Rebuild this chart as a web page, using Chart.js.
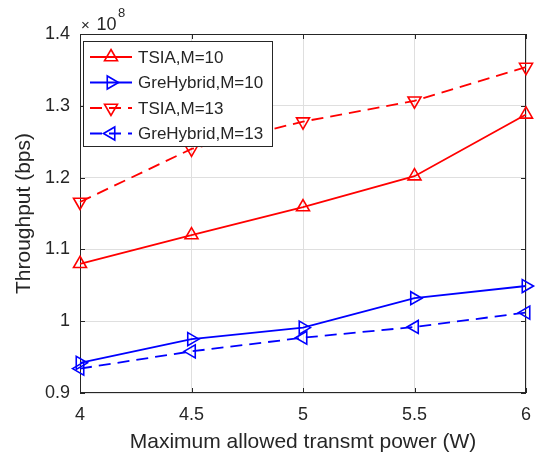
<!DOCTYPE html>
<html>
<head>
<meta charset="utf-8">
<script src="https://cdn.jsdelivr.net/npm/chart.js@4.4.1/dist/chart.umd.min.js"></script>
<style>
  html, body { margin: 0; padding: 0; background: #fff; }
  #wrap { width: 538px; height: 459px; }
</style>
</head>
<body>
<div id="wrap"><canvas id="chart1"></canvas></div>
<script>
// data (throughput in bps)
var powers = [4, 4.5, 5, 5.5, 6];
var tsiaM10 = [1.080e8, 1.120e8, 1.159e8, 1.202e8, 1.288e8];
var greM10 = [0.942e8, 0.975e8, 0.991e8, 1.032e8, 1.049e8];
var tsiaM13 = [1.166e8, 1.240e8, 1.278e8, 1.307e8, 1.354e8];
var greM13 = [0.934e8, 0.958e8, 0.977e8, 0.992e8, 1.012e8];
var seriesNames = ['TSIA,M=10', 'GreHybrid,M=10', 'TSIA,M=13', 'GreHybrid,M=13'];
var xTicks = [4, 4.5, 5, 5.5, 6];
var yTicks = [0.9e8, 1.0e8, 1.1e8, 1.2e8, 1.3e8, 1.4e8];
var yExponent = 8;

var FONT = "'Liberation Sans', Arial, sans-serif";
var AXIS = '#262626';

function pts(ys) {
    return powers.map(function (x, i) { return { x: x, y: ys[i] }; });
}

function series(label, ys, color, rot, dashed) {
    return {
        label: label,
        data: pts(ys),
        borderColor: color,
        backgroundColor: color,
        borderWidth: 1.8,
        borderDash: dashed ? [12, 7] : [],
        pointStyle: 'triangle',
        rotation: rot,
        pointRadius: 7.5,
        pointHoverRadius: 7.5,
        pointBorderWidth: 1.6,
        pointBackgroundColor: 'rgba(0,0,0,0)',
        pointBorderColor: color,
        tension: 0,
        clip: false
    };
}

function triangle(ctx, x, y, r, rotDeg) {
    var rad = rotDeg * Math.PI / 180;
    ctx.beginPath();
    for (var k = 0; k < 3; k++) {
        var a = rad + k * 2 * Math.PI / 3;
        var px = x + Math.sin(a) * r, py = y - Math.cos(a) * r;
        if (k === 0) ctx.moveTo(px, py); else ctx.lineTo(px, py);
    }
    ctx.closePath();
    ctx.stroke();
}

// axes box + inward ticks, under the data like MATLAB
var boxPlugin = {
    id: 'box',
    beforeDatasetsDraw: function (chart) {
        var ctx = chart.ctx, a = chart.chartArea;
        var xs = chart.scales.x, ys = chart.scales.y;
        ctx.save();
        ctx.strokeStyle = AXIS;
        ctx.lineWidth = 1;
        ctx.strokeRect(a.left + 0.5, a.top + 0.5, a.right - a.left - 1, a.bottom - a.top - 1);
        ctx.beginPath();
        xTicks.forEach(function (v) {
            var px = Math.round(xs.getPixelForValue(v)) + 0.5;
            ctx.moveTo(px, a.bottom); ctx.lineTo(px, a.bottom - 5);
            ctx.moveTo(px, a.top); ctx.lineTo(px, a.top + 5);
        });
        yTicks.forEach(function (v) {
            var py = Math.round(ys.getPixelForValue(v)) + 0.5;
            ctx.moveTo(a.left, py); ctx.lineTo(a.left + 5, py);
            ctx.moveTo(a.right, py); ctx.lineTo(a.right - 5, py);
        });
        ctx.stroke();
        ctx.restore();
    },
    afterDraw: function (chart) {
        var ctx = chart.ctx, a = chart.chartArea;
        ctx.save();
        // exponent label
        ctx.fillStyle = AXIS;
        ctx.textBaseline = 'alphabetic';
        ctx.textAlign = 'left';
        ctx.font = '15px ' + FONT;
        ctx.fillText('\u00d7', a.left + 1, a.top - 4);
        ctx.font = '18px ' + FONT;
        ctx.fillText('10', a.left + 16.5, a.top - 4);
        ctx.font = '13px ' + FONT;
        ctx.fillText(String(yExponent), a.left + 38, a.top - 17);

        // legend
        var lx = 83.5, ly = 41.5, lw = 189, lh = 105;
        ctx.fillStyle = '#fff';
        ctx.fillRect(lx, ly, lw, lh);
        ctx.strokeStyle = AXIS;
        ctx.lineWidth = 1;
        ctx.strokeRect(lx, ly, lw, lh);
        ctx.font = '17px ' + FONT;
        ctx.textBaseline = 'middle';
        chart.data.datasets.forEach(function (ds, i) {
            var y = 57 + i * 25.5;
            ctx.strokeStyle = ds.borderColor;
            ctx.lineWidth = ds.borderWidth;
            ctx.setLineDash(ds.borderDash);
            ctx.beginPath();
            ctx.moveTo(90, y); ctx.lineTo(132, y);
            ctx.stroke();
            ctx.setLineDash([]);
            ctx.lineWidth = ds.pointBorderWidth;
            triangle(ctx, 111, y, ds.pointRadius, ds.rotation);
            ctx.fillStyle = AXIS;
            ctx.fillText(ds.label, 138, y + 1);
        });
        ctx.restore();
    }
};

var ctx1 = document.getElementById('chart1').getContext('2d');
var chart1 = new Chart(ctx1, {
    type: 'line',
    data: {
        datasets: [
            series(seriesNames[0], tsiaM10, '#ff0000', 0, false),
            series(seriesNames[1], greM10, '#0000ff', 90, false),
            series(seriesNames[2], tsiaM13, '#ff0000', 180, true),
            series(seriesNames[3], greM13, '#0000ff', 270, true)
        ]
    },
    options: {
        responsive: true,
        maintainAspectRatio: false,
        animation: false,
        layout: { padding: { left: 0, right: 12, top: 34, bottom: 0 } },
        plugins: {
            legend: { display: false },
            tooltip: { enabled: false }
        },
        scales: {
            x: {
                type: 'linear',
                min: 4,
                max: 6,
                afterBuildTicks: function (s) { s.ticks = xTicks.map(function (v) { return { value: v }; }); },
                afterFit: function (s) {
                    s.height = 66;
                    // the tick padding would otherwise widen the side margins
                    s.paddingLeft = 0;
                    s.paddingRight = 0;
                },
                grid: { color: '#dfdfdf', drawTicks: false },
                border: { display: false },
                ticks: {
                    padding: 11,
                    color: AXIS,
                    font: { family: FONT, size: 18 },
                    maxRotation: 0,
                    callback: function (v) { return String(v); }
                },
                title: {
                    display: true,
                    text: 'Maximum allowed transmt power (W)',
                    color: AXIS,
                    font: { family: FONT, size: 21 },
                    padding: { top: 0, bottom: 4 }
                }
            },
            y: {
                min: 0.9e8,
                max: 1.4e8,
                afterBuildTicks: function (s) { s.ticks = yTicks.map(function (v) { return { value: v }; }); },
                afterFit: function (s) { s.width = 80; },
                grid: { color: '#dfdfdf', drawTicks: false },
                border: { display: false },
                ticks: {
                    padding: 10,
                    color: AXIS,
                    font: { family: FONT, size: 18 },
                    callback: function (v) { return String(Math.round(v / Math.pow(10, yExponent - 1)) / 10); }
                },
                title: {
                    display: true,
                    text: 'Throughput (bps)',
                    color: AXIS,
                    font: { family: FONT, size: 21 },
                    padding: { top: 12, bottom: 0 }
                }
            }
        }
    },
    plugins: [boxPlugin]
});
</script>
</body>
</html>
